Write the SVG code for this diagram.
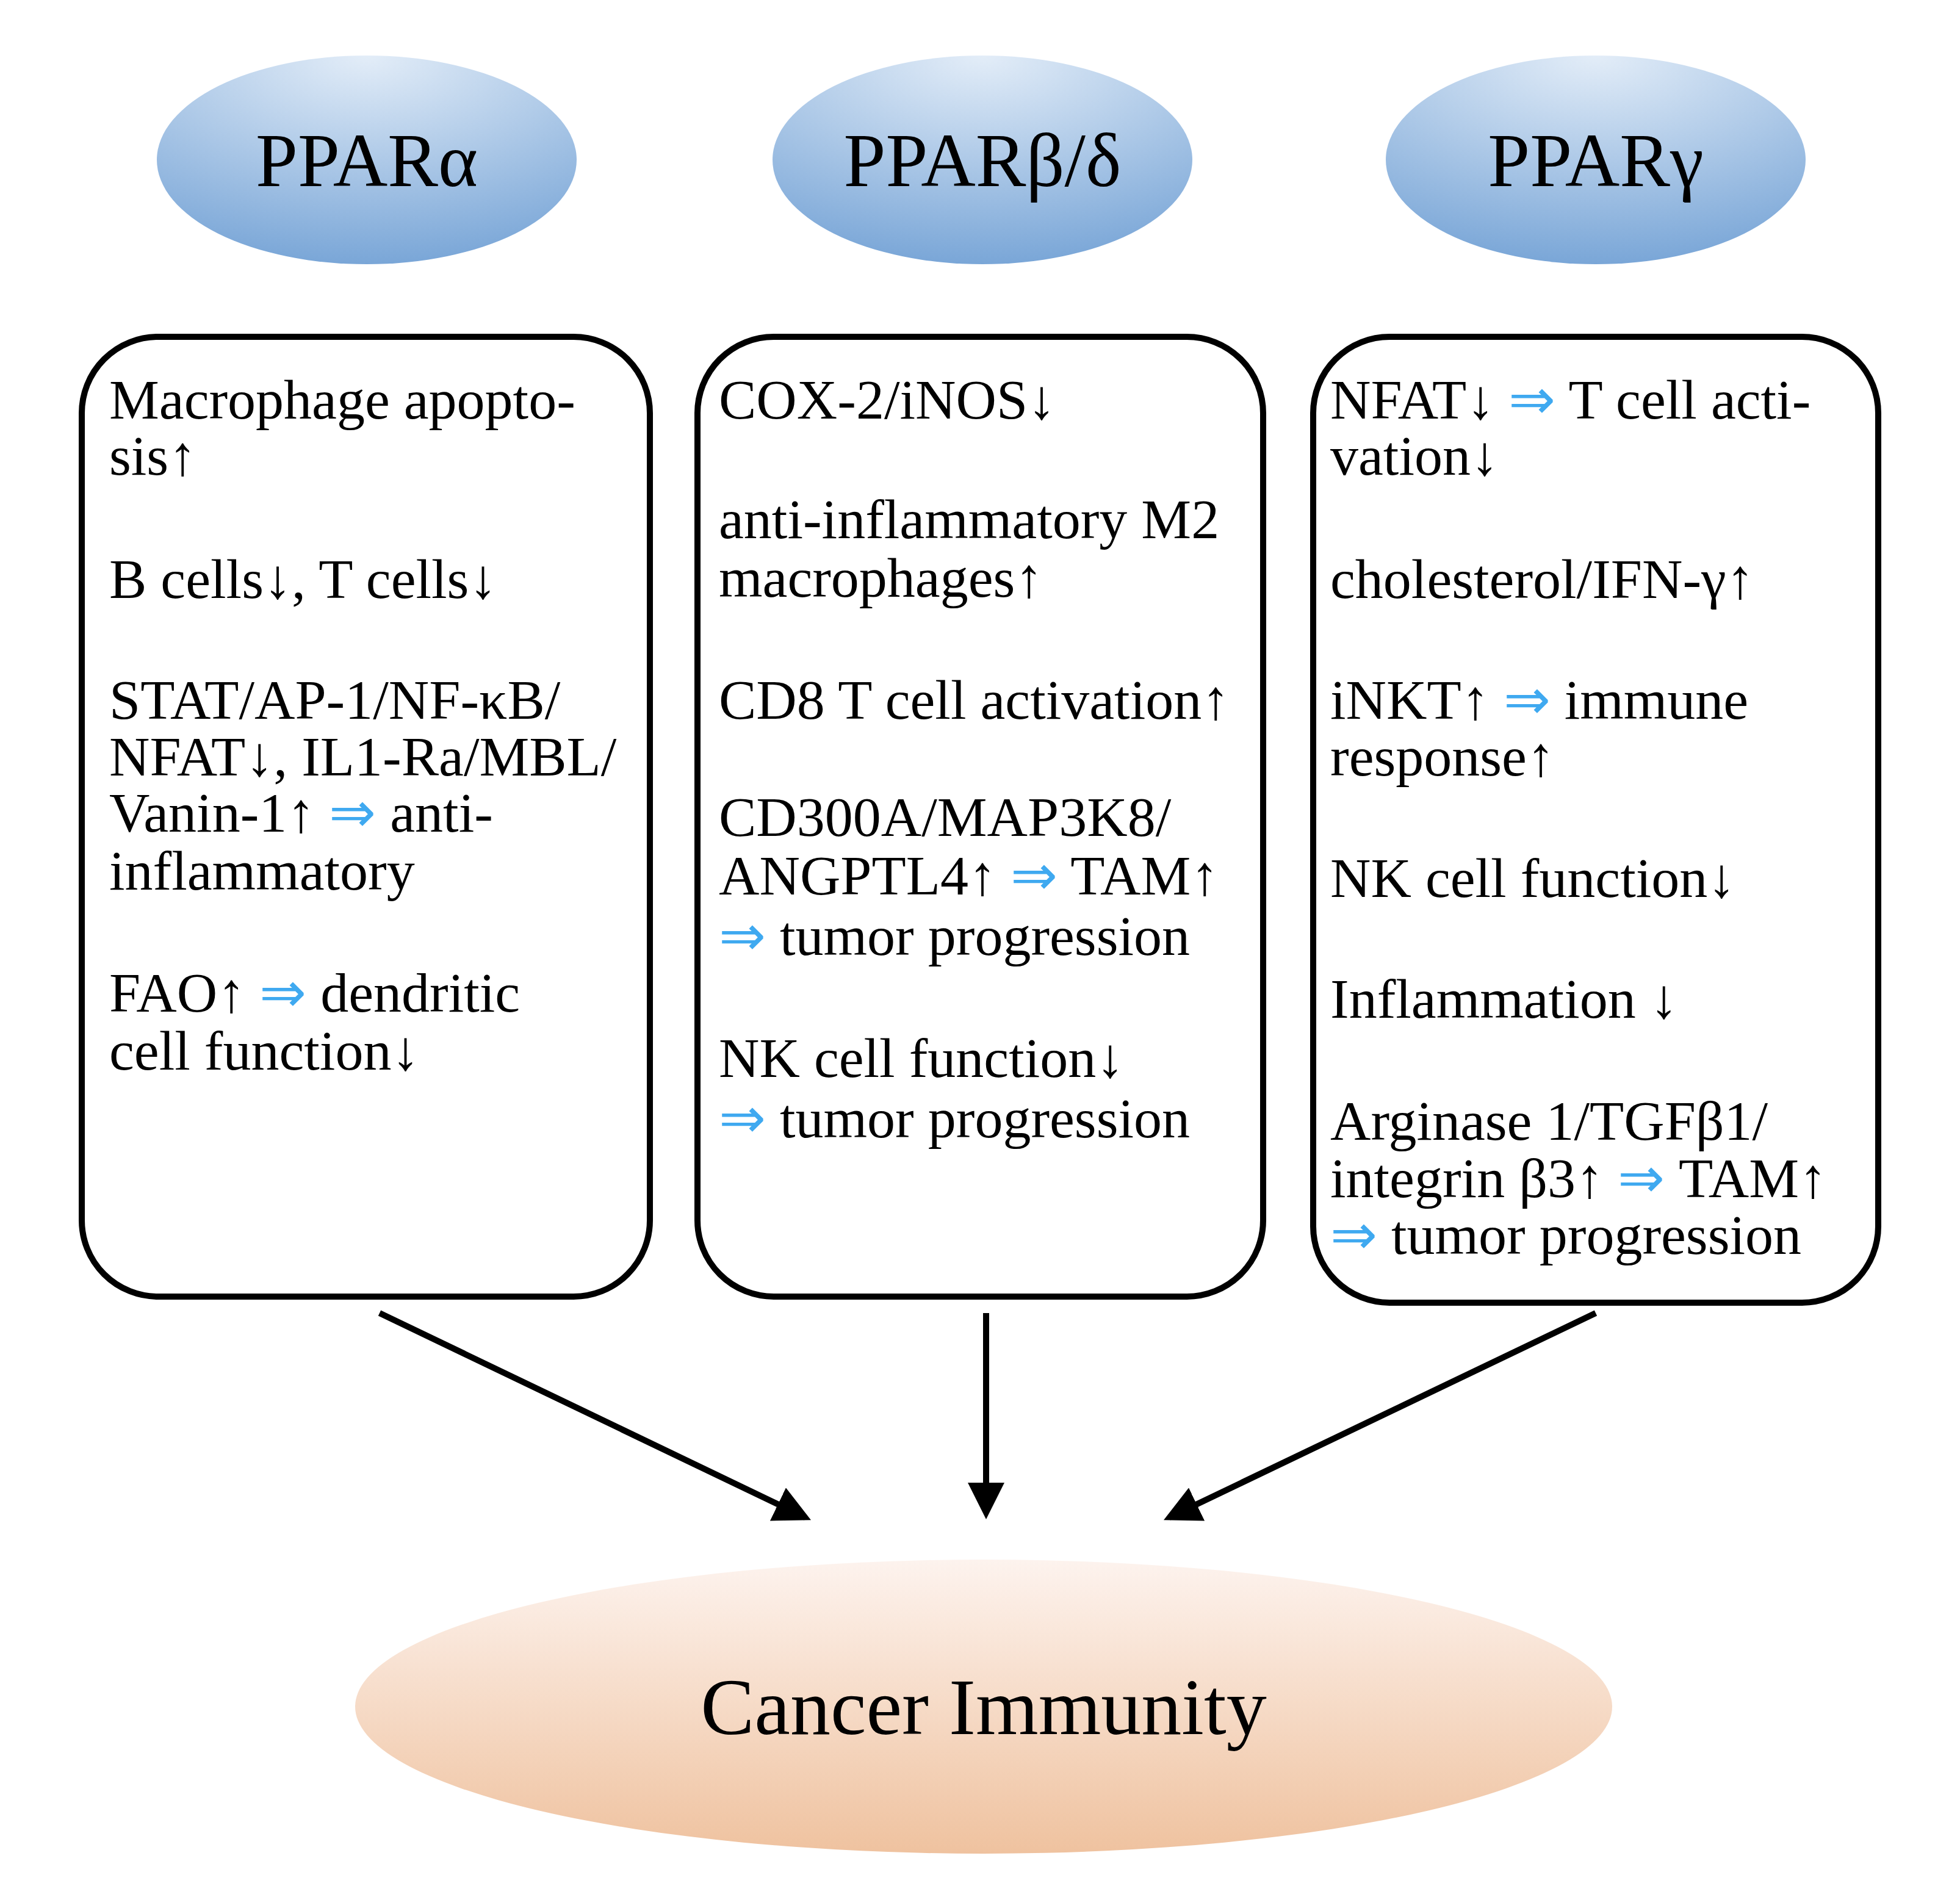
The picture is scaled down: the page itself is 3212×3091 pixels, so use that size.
<svg xmlns="http://www.w3.org/2000/svg" width="3212" height="3091" viewBox="0 0 3212 3091">
<defs>
<radialGradient id="gb" cx="0.5" cy="0" r="1.1" fx="0.5" fy="0">
<stop offset="0" stop-color="#e3edf8"/><stop offset="1" stop-color="#6f9fd4"/></radialGradient>
<linearGradient id="go" x1="0" y1="0" x2="0" y2="1">
<stop offset="0" stop-color="#fdf3ee"/><stop offset="1" stop-color="#efc29f"/></linearGradient>
<marker id="ah" markerWidth="6" markerHeight="6" refX="5" refY="3" orient="auto" markerUnits="strokeWidth">
<path d="M0,0 L6,3 L0,6 Z" fill="#000"/></marker>
</defs>
<style>
.t{font-family:"Liberation Serif","Times New Roman",serif;font-size:92px;fill:#000}
.h{font-family:"Liberation Serif","Times New Roman",serif;font-size:124px;fill:#000;text-anchor:middle}
.b{fill:#3fa9f0}
.box{fill:#fff;stroke:#000;stroke-width:10}
.c{stroke:#000;stroke-width:10;fill:none;marker-end:url(#ah)}
</style>
<rect width="3212" height="3091" fill="#fff"/>
<g id="ppar-alpha"><ellipse cx="601" cy="262" rx="344" ry="171" fill="url(#gb)"/><text class="h" x="601" y="305">PPARα</text></g>
<g id="ppar-beta"><ellipse cx="1610" cy="262" rx="344" ry="171" fill="url(#gb)"/><text class="h" x="1610" y="305">PPARβ/δ</text></g>
<g id="ppar-gamma"><ellipse cx="2615" cy="262" rx="344" ry="171" fill="url(#gb)"/><text class="h" x="2615" y="305">PPARγ</text></g>
<g id="box-alpha"><rect class="box" x="134" y="552" width="931" height="1573" rx="125"/>
<text class="t" x="179" y="686">Macrophage apopto-</text>
<text class="t" x="179" y="778">sis↑</text>
<text class="t" x="179" y="980">B cells↓, T cells↓</text>
<text class="t" x="179" y="1178">STAT/AP-1/NF-κB/</text>
<text class="t" x="179" y="1271">NFAT↓, IL1-Ra/MBL/</text>
<text class="t" x="179" y="1363">Vanin-1↑ <tspan class="b">⇒</tspan> anti-</text>
<text class="t" x="179" y="1458">inflammatory</text>
<text class="t" x="179" y="1658">FAO↑ <tspan class="b">⇒</tspan> dendritic</text>
<text class="t" x="179" y="1753">cell function↓</text>
</g>
<g id="box-beta"><rect class="box" x="1143" y="552" width="927" height="1573" rx="125"/>
<text class="t" x="1178" y="686">COX-2/iNOS↓</text>
<text class="t" x="1178" y="882">anti-inflammatory M2</text>
<text class="t" x="1178" y="978">macrophages↑</text>
<text class="t" x="1178" y="1178">CD8 T cell activation↑</text>
<text class="t" x="1178" y="1370">CD300A/MAP3K8/</text>
<text class="t" x="1178" y="1466">ANGPTL4↑ <tspan class="b">⇒</tspan> TAM↑</text>
<text class="t" x="1178" y="1565"><tspan class="b">⇒</tspan> tumor progression</text>
<text class="t" x="1178" y="1765">NK cell function↓</text>
<text class="t" x="1178" y="1864"><tspan class="b">⇒</tspan> tumor progression</text>
</g>
<g id="box-gamma"><rect class="box" x="2152" y="552" width="926" height="1583" rx="125"/>
<text class="t" x="2180" y="686">NFAT↓ <tspan class="b">⇒</tspan> T cell acti-</text>
<text class="t" x="2180" y="778">vation↓</text>
<text class="t" x="2180" y="980">cholesterol/IFN-γ↑</text>
<text class="t" x="2180" y="1178">iNKT↑ <tspan class="b">⇒</tspan>  immune</text>
<text class="t" x="2180" y="1271">response↑</text>
<text class="t" x="2180" y="1470">NK cell function↓</text>
<text class="t" x="2180" y="1668">Inflammation ↓</text>
<text class="t" x="2180" y="1868">Arginase 1/TGFβ1/</text>
<text class="t" x="2180" y="1962">integrin β3↑ <tspan class="b">⇒</tspan> TAM↑</text>
<text class="t" x="2180" y="2055"><tspan class="b">⇒</tspan> tumor progression</text>
</g>
<g id="connectors">
<line class="c" x1="622" y1="2152" x2="1320" y2="2487"/>
<line class="c" x1="1616" y1="2152" x2="1616" y2="2480"/>
<line class="c" x1="2615" y1="2152" x2="1916" y2="2487"/>
</g>
<g id="cancer-immunity"><ellipse cx="1612" cy="2797" rx="1030" ry="241" fill="url(#go)"/><text class="h" x="1612" y="2842" style="font-size:132px">Cancer Immunity</text></g>
</svg>
